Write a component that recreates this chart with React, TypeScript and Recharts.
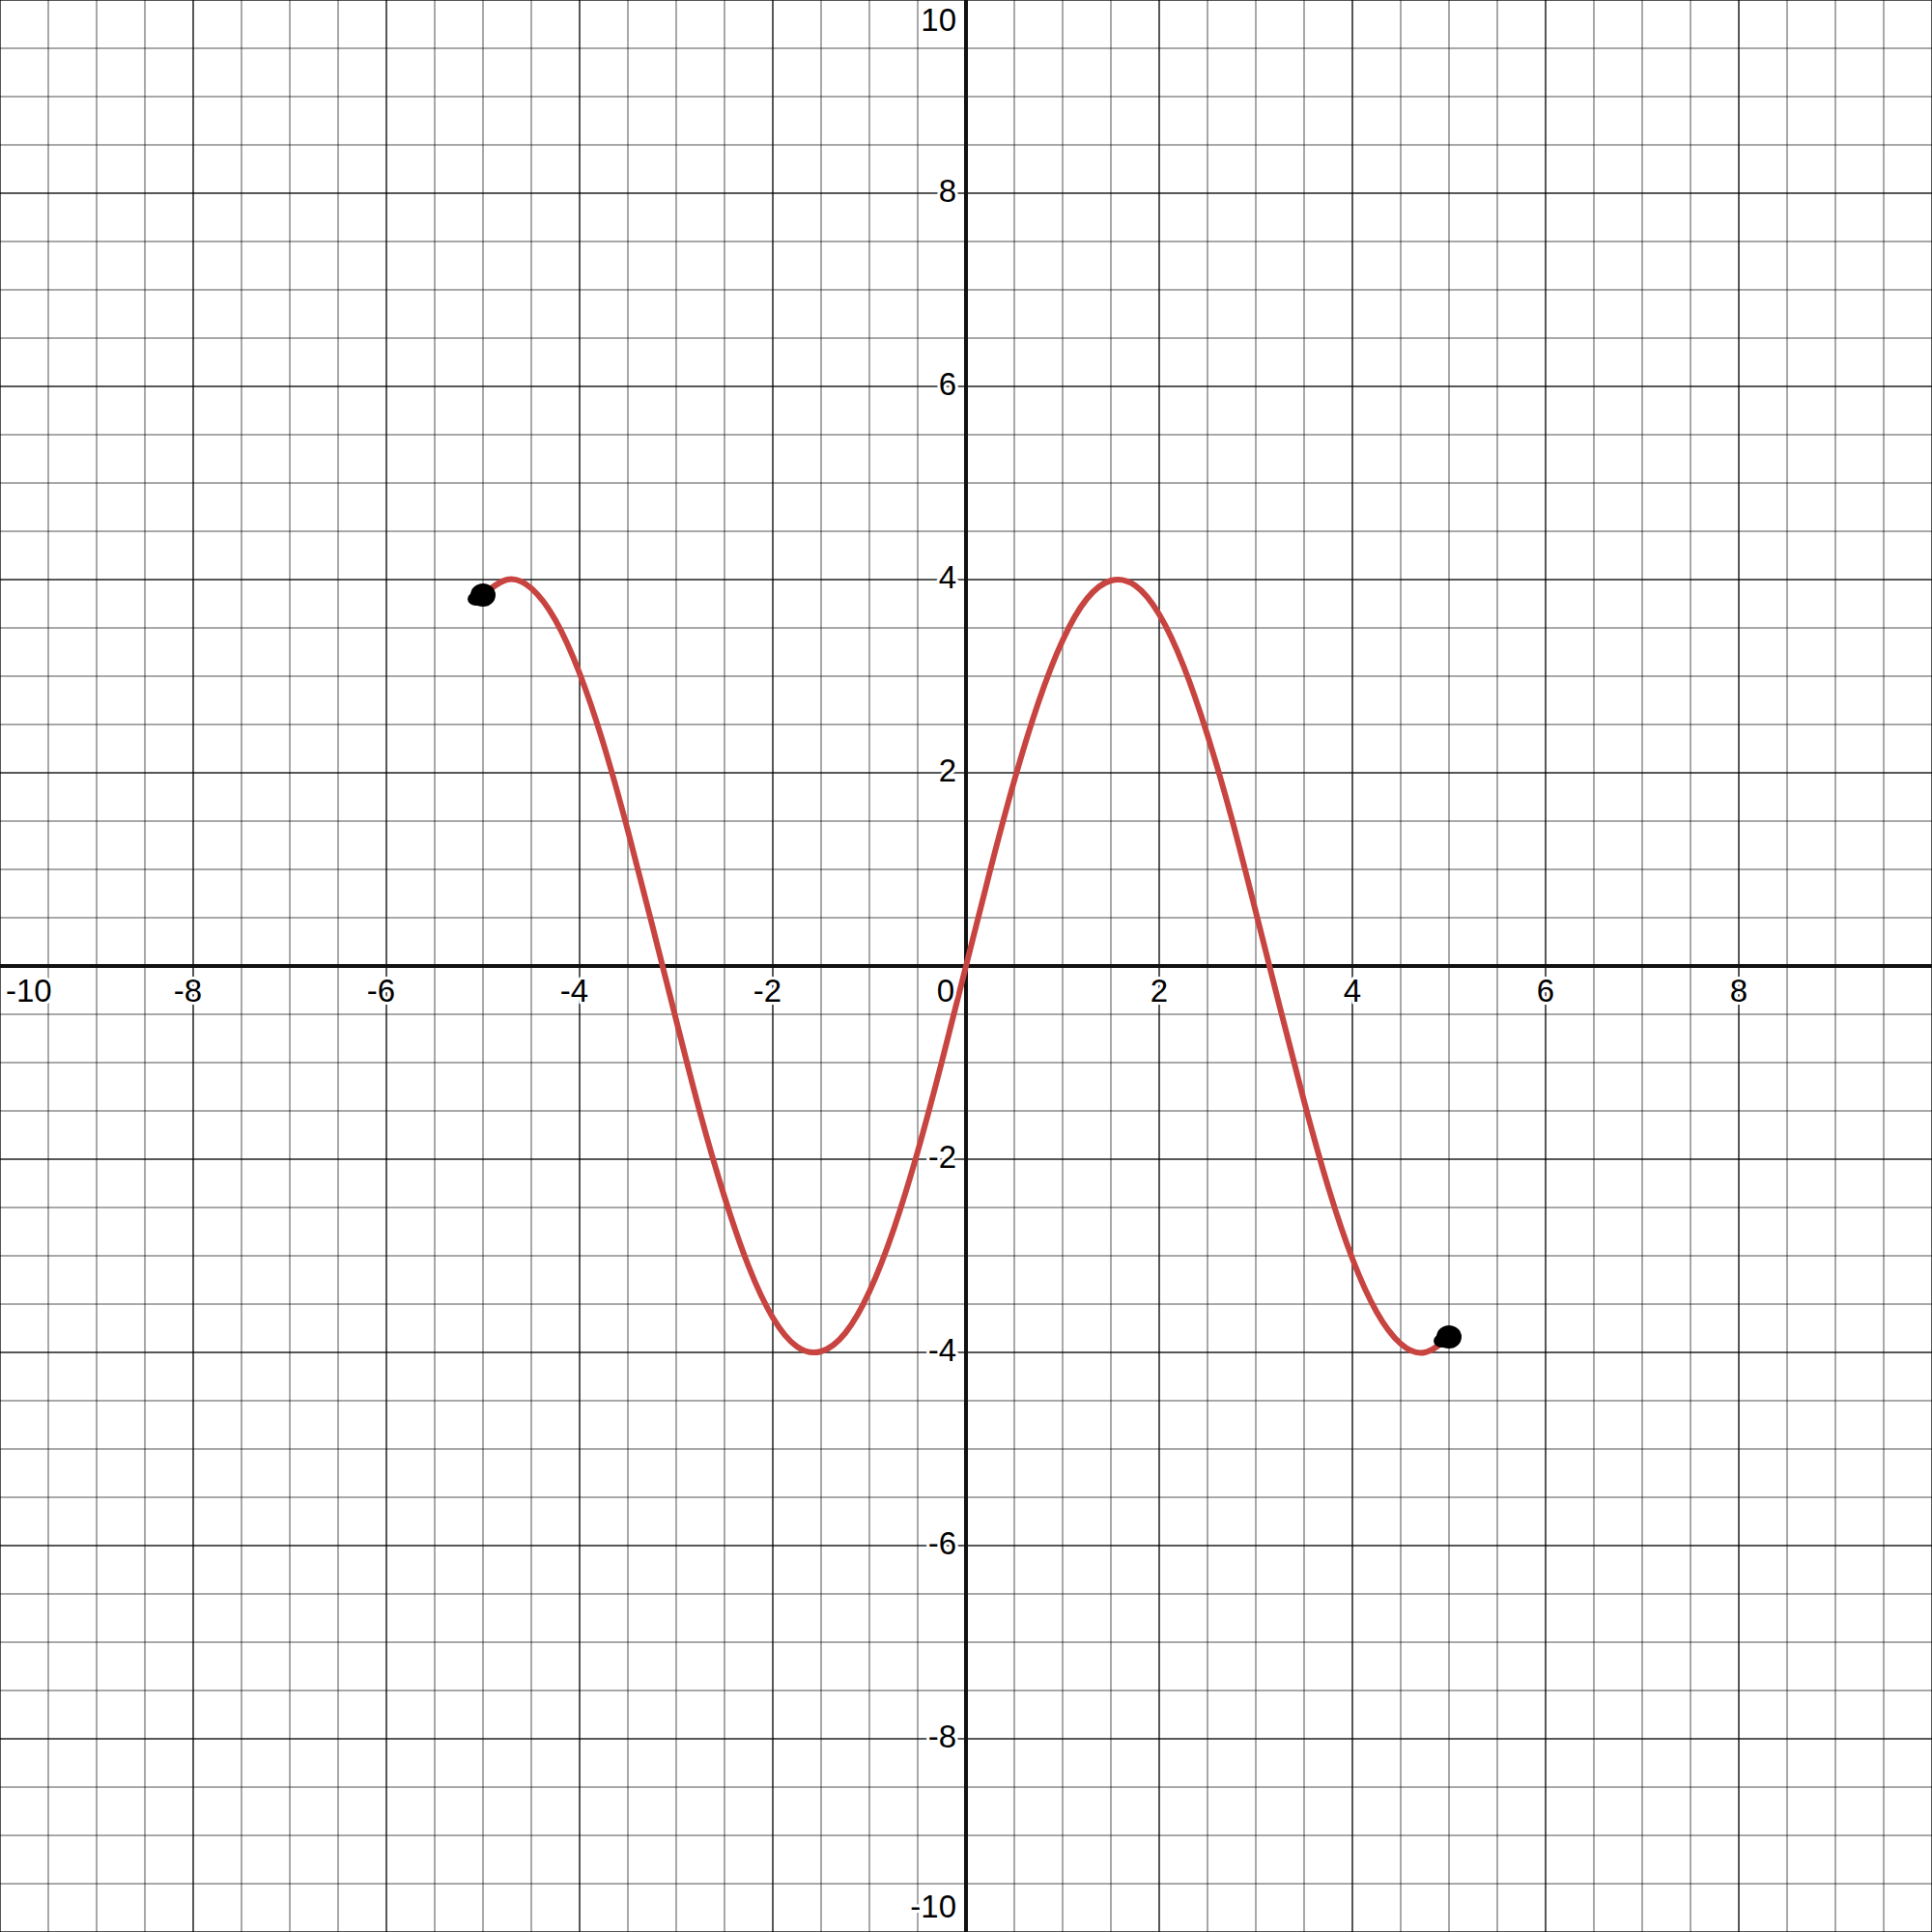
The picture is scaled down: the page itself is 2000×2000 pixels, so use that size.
import React from 'react';
import { ComposedChart, Line, Scatter, XAxis, YAxis, ReferenceLine } from 'recharts';

// curve samples
const curveX = [
  -5, -4.75, -4.5, -4.25, -4, -3.75, -3.5, -3.25, -3, -2.75, -2.5, -2.25, -2, -1.75, -1.5, -1.25, -1, -0.75, -0.5, -0.25,
  0, 0.25, 0.5, 0.75, 1, 1.25, 1.5, 1.75, 2, 2.25, 2.5, 2.75, 3, 3.25, 3.5, 3.75, 4, 4.25, 4.5, 4.75, 5,
];
const curveY = [
  3.84, 4.0, 3.91, 3.58, 3.03, 2.29, 1.4, 0.43, -0.56, -1.53, -2.39, -3.11, -3.64, -3.94, -3.99, -3.8, -3.37, -2.73, -1.92, -0.99,
  0, 0.99, 1.92, 2.73, 3.37, 3.8, 3.99, 3.94, 3.64, 3.11, 2.39, 1.53, 0.56, -0.43, -1.4, -2.29, -3.03, -3.58, -3.91, -4.0, -3.84,
];

const endpointX = [-5, 5];
const endpointY = [3.84, -3.84];

const xTickLabels = [-10, -8, -6, -4, -2, 2, 4, 6, 8];
const yTickLabels = [10, 8, 6, 4, 2, -2, -4, -6, -8, -10];

const SIZE = 2000;
const FS = 33;
const FONT = '"Liberation Sans", Arial, sans-serif';

const curveData = curveX.map((x, i) => ({ x, y: curveY[i] }));
const endpointData = endpointX.map((x, i) => ({ x, y: endpointY[i] }));
const xLabelData = xTickLabels.map((v) => ({ x: v, y: 0, v }));
const yLabelData = yTickLabels.map((v) => ({ x: 0, y: v, v }));

const minor: number[] = [];
const major: number[] = [];
for (let i = -20; i <= 20; i++) {
  const v = i / 2;
  if (v === 0) continue;
  if (Number.isInteger(v) && v % 2 === 0) major.push(v);
  else minor.push(v);
}

const Label = ({ x, y, anchor, children }: any) => (
  <text
    x={x}
    y={y}
    textAnchor={anchor}
    fontFamily={FONT}
    fontSize={FS}
    fill="#000"
    stroke="#fff"
    strokeWidth={6}
    strokeLinejoin="round"
    paintOrder="stroke"
  >
    {children}
  </text>
);

const XLabel = (props: any) => {
  const { cx, cy, payload } = props;
  const v = payload.v;
  let x = cx;
  let anchor = 'middle';
  if (v < 0) x = cx - (FS * 0.333) / 2;
  if (v === -10) {
    x = 6;
    anchor = 'start';
  }
  return (
    <Label x={x} y={cy + 37} anchor={anchor}>
      {String(v)}
    </Label>
  );
};

const YLabel = (props: any) => {
  const { cx, cy, payload } = props;
  const v = payload.v;
  let y = cy + 9;
  if (v === 10) y = 32;
  if (v === -10) y = cy - 15;
  return (
    <Label x={cx - 10} y={y} anchor="end">
      {String(v)}
    </Label>
  );
};

const OriginLabel = (props: any) => (
  <Label x={props.cx - 12} y={props.cy + 37} anchor="end">
    0
  </Label>
);

const Blob = (props: any) => {
  const { cx, cy } = props;
  return (
    <g fill="#000">
      <ellipse cx={cx} cy={cy} rx={13} ry={12} />
      <ellipse cx={cx - 7} cy={cy + 4} rx={9} ry={7} />
    </g>
  );
};

const App: React.FC = () => {
  return (
    <div style={{ position: 'absolute', left: 0, top: 0, width: SIZE, height: SIZE, background: '#fff' }}>
      <ComposedChart width={SIZE} height={SIZE} margin={{ top: 0, right: 0, bottom: 0, left: 0 }}>
        <XAxis type="number" dataKey="x" domain={[-10, 10]} allowDataOverflow hide />
        <YAxis type="number" dataKey="y" domain={[-10, 10]} allowDataOverflow hide />

        {minor.map((v) => (
          <ReferenceLine key={`mx${v}`} x={v} stroke="#000" strokeOpacity={0.34} strokeWidth={2} />
        ))}
        {minor.map((v) => (
          <ReferenceLine key={`my${v}`} y={v} stroke="#000" strokeOpacity={0.34} strokeWidth={2} />
        ))}
        {major.map((v) => (
          <ReferenceLine key={`Mx${v}`} x={v} stroke="#000" strokeOpacity={0.66} strokeWidth={2} />
        ))}
        {major.map((v) => (
          <ReferenceLine key={`My${v}`} y={v} stroke="#000" strokeOpacity={0.66} strokeWidth={2} />
        ))}
        <ReferenceLine x={0} stroke="#111" strokeWidth={4} />
        <ReferenceLine y={0} stroke="#111" strokeWidth={4} />

        <Scatter data={xLabelData} dataKey="y" shape={<XLabel />} isAnimationActive={false} />
        <Scatter data={yLabelData} dataKey="y" shape={<YLabel />} isAnimationActive={false} />
        <Scatter data={[{ x: 0, y: 0 }]} dataKey="y" shape={<OriginLabel />} isAnimationActive={false} />

        <Line
          data={curveData}
          dataKey="y"
          type="natural"
          stroke="#c74440"
          strokeWidth={6}
          dot={false}
          activeDot={false}
          isAnimationActive={false}
        />
        <Scatter data={endpointData} dataKey="y" shape={<Blob />} activeShape={<Blob />} isAnimationActive={false} />
      </ComposedChart>
    </div>
  );
};

export default App;
